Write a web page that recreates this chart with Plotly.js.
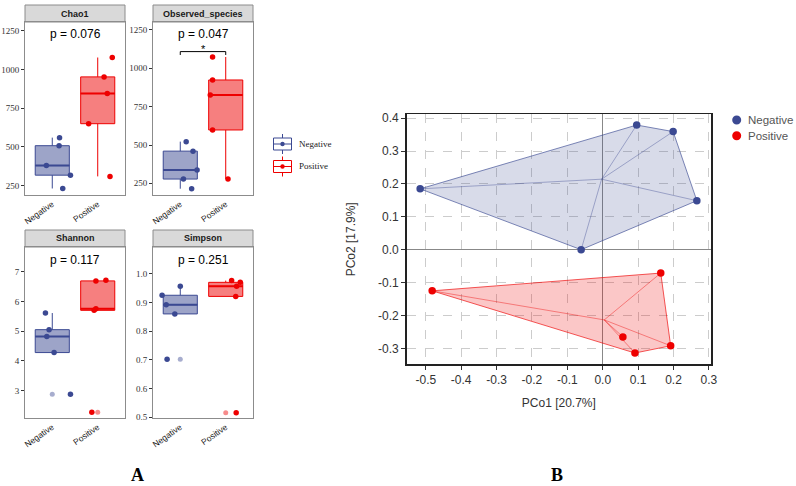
<!DOCTYPE html>
<html>
<head>
<meta charset="utf-8">
<script src="https://cdn.plot.ly/plotly-3.0.1.min.js"></script>
<style>html,body{margin:0;padding:0;background:#fff;}#chart{width:796px;height:486px;}</style>
</head>
<body>
<div id="chart"></div>
<script>
// ---------------- DATA ----------------
const groups = ['Negative', 'Positive'];

const chao1Neg = [560, 508, 380, 318, 232];
const chao1Pos = [1077, 952, 845, 650, 310];
const obsNeg = [522, 460, 337, 278, 215];
const obsPos = [1074, 924, 826, 598, 278];
const shannonNeg = [5.61, 5.05, 4.82, 4.28, 2.88];
const shannonPos = [6.69, 6.71, 5.75, 5.70, 2.27];
const simpsonNeg = [0.925, 0.892, 0.860, 0.956, 0.702];
const simpsonPos = [0.976, 0.970, 0.956, 0.921, 0.516];

// horizontal jitter of the points (category units)
const chao1NegJit = [0.16, 0.15, -0.13, 0.40, 0.23];
const chao1PosJit = [0.32, 0.14, 0.21, -0.20, 0.27];
const obsNegJit = [0.13, 0.28, 0.37, 0.07, 0.25];
const obsPosJit = [-0.29, -0.29, -0.34, -0.29, 0.05];
const shannonNegJit = [-0.15, -0.07, -0.12, 0.04, 0.40];
const shannonPosJit = [-0.04, 0.18, -0.04, -0.08, -0.13];
const simpsonNegJit = [-0.40, -0.31, -0.12, 0.00, -0.29];
const simpsonPosJit = [0.13, 0.32, 0.24, 0.22, 0.23];

const facetNames = ['Chao1', 'Observed_species', 'Shannon', 'Simpson'];
const pValues = ['p = 0.076', 'p = 0.047', 'p = 0.117', 'p = 0.251'];
const countTicks = [250, 500, 750, 1000, 1250];
const countTickText = ['250', '500', '750', '1000', '1250'];
const shannonTicks = [3, 4, 5, 6, 7];
const shannonTickText = ['3', '4', '5', '6', '7'];
const simpsonTicks = [0.5, 0.6, 0.7, 0.8, 0.9, 1.0];
const simpsonTickText = ['0.5', '0.6', '0.7', '0.8', '0.9', '1.0'];

const pcoaNegX = [-0.516, -0.061, 0.096, 0.199, 0.266];
const pcoaNegY = [0.185, 0.000, 0.379, 0.359, 0.149];
const pcoaPosX = [-0.482, 0.164, 0.057, 0.091, 0.192];
const pcoaPosY = [-0.125, -0.071, -0.265, -0.314, -0.292];
const pcoTicks = [-0.5, -0.4, -0.3, -0.2, -0.1, 0.0, 0.1, 0.2, 0.3];
const pcoTickTextX = ['-0.5', '-0.4', '-0.3', '-0.2', '-0.1', '0.0', '0.1', '0.2', '0.3'];
const pcoTicksY = [-0.3, -0.2, -0.1, 0.0, 0.1, 0.2, 0.3, 0.4];
const pcoTickTextY = ['-0.3', '-0.2', '-0.1', '0.0', '0.1', '0.2', '0.3', '0.4'];
const pcoaXTitle = 'PCo1 [20.7%]';
const pcoaYTitle = 'PCo2 [17.9%]';

// ---------------- HELPERS ----------------
const W = 796, H = 486;
const px = x => x / W;
const py = y => 1 - y / H;
const BLUE = '#3B4992', RED = '#EE0000';
const median = a => { const s = [...a].sort((p, q) => p - q); const n = s.length; return n % 2 ? s[(n - 1) / 2] : (s[n / 2 - 1] + s[n / 2]) / 2; };
function hull(xs, ys) {
  const pts = xs.map((x, i) => [x, ys[i]]).sort((a, b) => a[0] - b[0] || a[1] - b[1]);
  const cross = (o, a, b) => (a[0] - o[0]) * (b[1] - o[1]) - (a[1] - o[1]) * (b[0] - o[0]);
  const lower = [], upper = [];
  for (const p of pts) { while (lower.length >= 2 && cross(lower[lower.length - 2], lower[lower.length - 1], p) <= 0) lower.pop(); lower.push(p); }
  for (const p of [...pts].reverse()) { while (upper.length >= 2 && cross(upper[upper.length - 2], upper[upper.length - 1], p) <= 0) upper.pop(); upper.push(p); }
  const h = lower.slice(0, -1).concat(upper.slice(0, -1));
  h.push(h[0]);
  return h;
}

// ---------------- FACETS (panel A) ----------------
const panels = [
  { neg: chao1Neg, pos: chao1Pos, jn: chao1NegJit, jp: chao1PosJit, box: [25, 125, 22, 195], range: [190, 1306], tv: countTicks, tt: countTickText },
  { neg: obsNeg, pos: obsPos, jn: obsNegJit, jp: obsPosJit, box: [153, 253, 22, 195], range: [174, 1302], tv: countTicks, tt: countTickText },
  { neg: shannonNeg, pos: shannonPos, jn: shannonNegJit, jp: shannonPosJit, box: [25, 125, 247, 418], range: [2.08, 7.83], tv: shannonTicks, tt: shannonTickText },
  { neg: simpsonNeg, pos: simpsonPos, jn: simpsonNegJit, jp: simpsonPosJit, box: [153, 253, 247, 418], range: [0.4976, 1.093], tv: simpsonTicks, tt: simpsonTickText }
];

const traces = [];
const layout = {
  width: W, height: H, margin: { l: 0, r: 0, t: 0, b: 0, autoexpand: false },
  paper_bgcolor: '#fff', plot_bgcolor: '#fff',
  showlegend: false, boxmode: 'overlay',
  shapes: [], annotations: [],
  font: { family: 'Liberation Sans, Arial, sans-serif', color: '#222' }
};

panels.forEach((p, i) => {
  const s = i === 0 ? '' : String(i + 1);
  const xa = 'x' + s, ya = 'y' + s;
  [[p.neg, p.jn, 1, BLUE, 'rgba(59,73,146,0.5)'], [p.pos, p.jp, 2, RED, 'rgba(238,0,0,0.5)']].forEach(([vals, jit, c, col, fill]) => {
    traces.push({
      type: 'box', y: vals, x0: c, width: 0.75, xaxis: xa, yaxis: ya,
      fillcolor: fill, line: { color: col, width: 1 }, whiskerwidth: 0,
      boxpoints: 'outliers', pointpos: 0, jitter: 0, quartilemethod: 'inclusive',
      marker: { color: col, opacity: 0.45, size: 5 },
      showlegend: false, hoverinfo: 'skip'
    });
    const m = median(vals);
    traces.push({
      type: 'scatter', mode: 'lines', x: [c - 0.375, c + 0.375], y: [m, m], xaxis: xa, yaxis: ya,
      line: { color: col, width: 2 }, showlegend: false, hoverinfo: 'skip'
    });
    traces.push({
      type: 'scatter', mode: 'markers', x: jit.map(j => c + j), y: vals, xaxis: xa, yaxis: ya,
      marker: { color: col, size: 5.5 }, showlegend: false, hoverinfo: 'skip'
    });
  });
  const [x0, x1, y0, y1] = p.box;
  layout['xaxis' + s] = {
    domain: [px(x0), px(x1)], range: [0.4, 2.6], anchor: ya,
    tickvals: [1, 2], ticktext: groups, tickangle: -35,
    tickfont: { family: 'Liberation Sans, Arial, sans-serif', size: 8.5, color: '#1a1a1a' },
    showline: true, mirror: true, linecolor: '#8c8c8c', linewidth: 1,
    showgrid: false, zeroline: false, ticks: '', fixedrange: true
  };
  layout['yaxis' + s] = {
    domain: [py(y1), py(y0)], range: p.range, anchor: xa,
    tickvals: p.tv, ticktext: p.tt,
    tickfont: { family: 'Liberation Serif, Times New Roman, serif', size: 9, color: '#333' },
    ticks: 'outside', ticklen: 3, tickcolor: '#333', tickwidth: 1,
    showline: true, mirror: true, linecolor: '#8c8c8c', linewidth: 1,
    showgrid: false, zeroline: false, fixedrange: true
  };
  // strip
  const sy0 = y0 - 17;
  layout.shapes.push({ type: 'rect', xref: 'paper', yref: 'paper', x0: px(x0), x1: px(x1), y0: py(y0), y1: py(sy0),
    fillcolor: '#d9d9d9', line: { color: '#8c8c8c', width: 1 }, layer: 'below' });
  layout.annotations.push({ xref: 'paper', yref: 'paper', x: px((x0 + x1) / 2), y: py((y0 + sy0) / 2), text: '<b>' + facetNames[i] + '</b>',
    showarrow: false, font: { family: 'Liberation Sans, Arial, sans-serif', size: 9, color: '#1a1a1a' }, xanchor: 'center', yanchor: 'middle' });
  // p-value
  layout.annotations.push({ xref: 'paper', yref: 'paper', x: px((x0 + x1) / 2), y: py(y0 + 12.5), text: pValues[i],
    showarrow: false, font: { family: 'Liberation Sans, Arial, sans-serif', size: 12, color: '#000' }, xanchor: 'center', yanchor: 'middle' });
});

// significance bracket on Observed_species
const brY = 1109, brTick = 22;
layout.shapes.push({ type: 'path', xref: 'x2', yref: 'y2', path: `M 1 ${brY - brTick} L 1 ${brY} L 2 ${brY} L 2 ${brY - brTick}`, line: { color: '#000', width: 1 } });
layout.annotations.push({ xref: 'x2', yref: 'paper', x: 1.5, y: py(49), text: '*', showarrow: false,
  font: { family: 'Liberation Sans, Arial, sans-serif', size: 11, color: '#000' }, xanchor: 'center', yanchor: 'middle' });

// panel A legend (box glyphs)
[[BLUE, 'Negative', 144], [RED, 'Positive', 166.5]].forEach(([col, name, cy]) => {
  layout.shapes.push({ type: 'line', xref: 'paper', yref: 'paper', x0: px(282.5), x1: px(282.5), y0: py(cy - 10), y1: py(cy + 10), line: { color: col, width: 1 } });
  layout.shapes.push({ type: 'rect', xref: 'paper', yref: 'paper', x0: px(273.5), x1: px(291.5), y0: py(cy - 6), y1: py(cy + 6), fillcolor: '#fff', line: { color: col, width: 1 } });
  layout.shapes.push({ type: 'line', xref: 'paper', yref: 'paper', x0: px(273.5), x1: px(291.5), y0: py(cy), y1: py(cy), line: { color: col, width: 1 } });
  layout.shapes.push({ type: 'circle', xref: 'paper', yref: 'paper', x0: px(280.3), x1: px(284.7), y0: py(cy - 2.2), y1: py(cy + 2.2), fillcolor: col, line: { color: col, width: 0 } });
  layout.annotations.push({ xref: 'paper', yref: 'paper', x: px(297), y: py(cy), text: name, showarrow: false, xanchor: 'left', yanchor: 'middle',
    font: { family: 'Liberation Serif, Times New Roman, serif', size: 9, color: '#1a1a1a' } });
});

// ---------------- PCoA (panel B) ----------------
[[pcoaNegX, pcoaNegY, BLUE, 'rgba(59,73,146,0.2)', 'rgba(59,73,146,0.65)', 'rgba(59,73,146,0.5)', 'Negative'],
 [pcoaPosX, pcoaPosY, RED, 'rgba(238,0,0,0.22)', 'rgba(238,0,0,0.65)', 'rgba(238,0,0,0.5)', 'Positive']].forEach(([xs, ys, col, fill, edge, spoke, name]) => {
  const h = hull(xs, ys);
  traces.push({ type: 'scatter', mode: 'lines', x: h.map(p => p[0]), y: h.map(p => p[1]), fill: 'toself', fillcolor: fill,
    line: { color: edge, width: 1 }, xaxis: 'x5', yaxis: 'y5', showlegend: false, hoverinfo: 'skip' });
  const cx = xs.reduce((a, b) => a + b, 0) / xs.length, cy = ys.reduce((a, b) => a + b, 0) / ys.length;
  const sx = [], sy = [];
  xs.forEach((x, i) => { sx.push(cx, x, null); sy.push(cy, ys[i], null); });
  traces.push({ type: 'scatter', mode: 'lines', x: sx, y: sy, line: { color: spoke, width: 0.8 }, xaxis: 'x5', yaxis: 'y5', showlegend: false, hoverinfo: 'skip' });
  traces.push({ type: 'scatter', mode: 'markers', x: xs, y: ys, marker: { color: col, size: 7.5 }, xaxis: 'x5', yaxis: 'y5', name: name, showlegend: false, hoverinfo: 'skip' });
});

layout.xaxis5 = {
  domain: [px(406.7), px(711)], range: [-0.554, 0.306], anchor: 'y5',
  tickvals: pcoTicks, ticktext: pcoTickTextX,
  tickfont: { family: 'Liberation Sans, Arial, sans-serif', size: 12, color: '#333' },
  ticks: 'outside', ticklen: 4, tickcolor: '#333',
  showline: true, mirror: true, linecolor: '#222', linewidth: 1.5,
  showgrid: true, gridcolor: '#cccccc', griddash: 'dash', gridwidth: 1,
  zeroline: true, zerolinecolor: '#888', zerolinewidth: 1,
  title: { text: pcoaXTitle, font: { family: 'Liberation Sans, Arial, sans-serif', size: 12, color: '#333' }, standoff: 12 },
  fixedrange: true
};
layout.yaxis5 = {
  domain: [py(364.3), py(114.3)], range: [-0.3483, 0.4116], anchor: 'x5',
  tickvals: pcoTicksY, ticktext: pcoTickTextY,
  tickfont: { family: 'Liberation Sans, Arial, sans-serif', size: 12, color: '#333' },
  ticks: 'outside', ticklen: 4, tickcolor: '#333',
  showline: true, mirror: true, linecolor: '#222', linewidth: 1.5,
  showgrid: true, gridcolor: '#cccccc', griddash: 'dash', gridwidth: 1,
  zeroline: true, zerolinecolor: '#888', zerolinewidth: 1,
  title: { text: pcoaYTitle, font: { family: 'Liberation Sans, Arial, sans-serif', size: 12, color: '#333' }, standoff: 20 },
  fixedrange: true
};

// panel B legend
[[BLUE, 'Negative', 120], [RED, 'Positive', 135.7]].forEach(([col, name, cy]) => {
  layout.shapes.push({ type: 'circle', xref: 'paper', yref: 'paper', x0: px(736.7 - 4.5), x1: px(736.7 + 4.5), y0: py(cy + 4.5), y1: py(cy - 4.5), fillcolor: col, line: { width: 0 } });
  layout.annotations.push({ xref: 'paper', yref: 'paper', x: px(746), y: py(cy), text: name, showarrow: false, xanchor: 'left', yanchor: 'middle',
    font: { family: 'Liberation Sans, Arial, sans-serif', size: 11.5, color: '#555' } });
});

// panel letters
layout.annotations.push({ xref: 'paper', yref: 'paper', x: px(137), y: py(475), text: '<b>A</b>', showarrow: false,
  font: { family: 'Liberation Serif, Times New Roman, serif', size: 18, color: '#000' }, xanchor: 'center', yanchor: 'middle' });
layout.annotations.push({ xref: 'paper', yref: 'paper', x: px(557), y: py(475), text: '<b>B</b>', showarrow: false,
  font: { family: 'Liberation Serif, Times New Roman, serif', size: 18, color: '#000' }, xanchor: 'center', yanchor: 'middle' });

Plotly.newPlot('chart', traces, layout, { staticPlot: true, displayModeBar: false });
</script>
</body>
</html>
